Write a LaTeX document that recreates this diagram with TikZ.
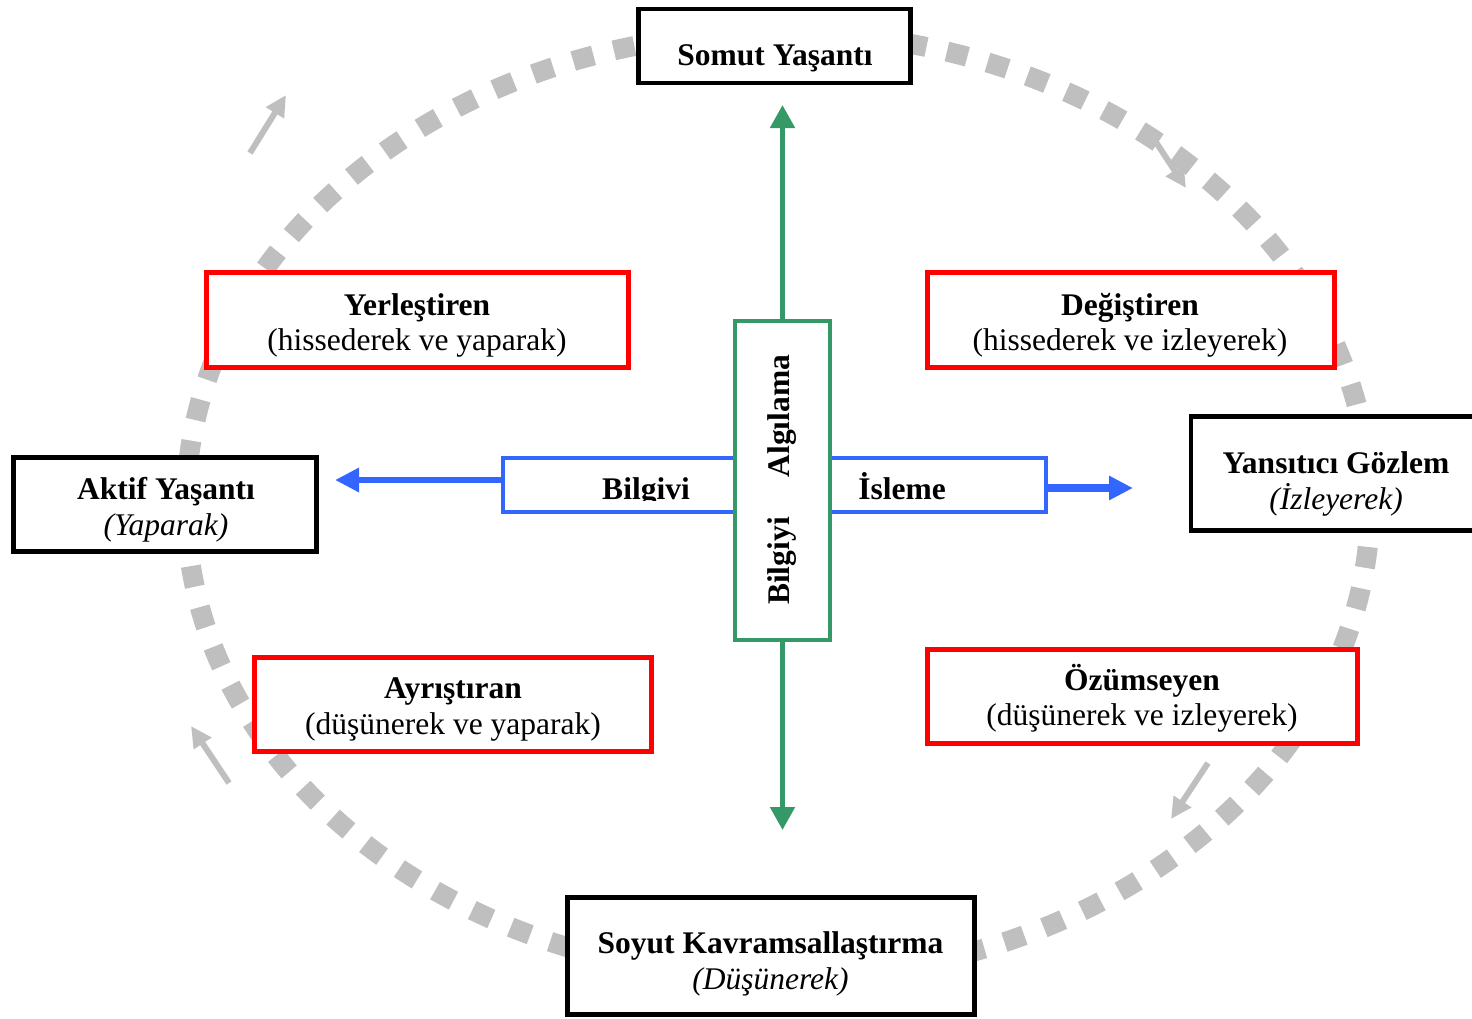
\documentclass[tikz,border=0pt]{standalone}
\usepackage{fontspec}
\setmainfont{Liberation Serif}
\usetikzlibrary{arrows.meta}
\definecolor{ringgray}{HTML}{BFBFBF}
\definecolor{stylered}{HTML}{FF0000}
\definecolor{percgreen}{HTML}{349966}
\definecolor{procblue}{HTML}{3366FF}

\begin{document}
\begin{tikzpicture}[x=1pt,y=-1pt,
        blackbox/.style={draw=black,line width=4.5pt,fill=white,inner sep=0pt},
        redbox/.style={draw=stylered,line width=4.5pt,fill=white,inner sep=0pt},
        headtxt/.style={font=\fontsize{31.5}{36}\selectfont\bfseries,anchor=base,inner sep=0pt},
        subtxt/.style={font=\fontsize{31.5}{36}\selectfont,anchor=base,inner sep=0pt},
        emtxt/.style={font=\fontsize{31.5}{36}\selectfont\itshape,anchor=base,inner sep=0pt},
        cyclearrow/.style={ringgray,line width=6pt,-{Triangle[width=20pt,length=21pt]}}]
        \useasboundingbox (0,0) rectangle (1472,1018);
        \clip (0,0) rectangle (1472,1018);

        \draw[ringgray,line width=20pt,dash pattern=on 21pt off 21pt] (778,505) ellipse [x radius=592,y radius=473];

        \coordinate (tlfrom) at (250,153);  \coordinate (tlto) at (286,95);
        \coordinate (trfrom) at (1150,133); \coordinate (trto) at (1186,188);
        \coordinate (brfrom) at (1208,763); \coordinate (brto) at (1171,819);
        \coordinate (blfrom) at (229,783);  \coordinate (blto) at (191,726);
        \draw[cyclearrow] (tlfrom) -- (tlto);
        \draw[cyclearrow] (trfrom) -- (trto);
        \draw[cyclearrow] (brfrom) -- (brto);
        \draw[cyclearrow] (blfrom) -- (blto);

        \node[blackbox,minimum width=272pt,minimum height=74pt] (somut) at (774.5,46) {};
        \node[headtxt] (somuttitle) at (775,65) {Somut Yaşantı};

        \node[blackbox,minimum width=303pt,minimum height=94pt] (aktif) at (165,504.5) {};
        \node[headtxt] (aktiftitle) at (166,499) {Aktif Yaşantı};
        \node[emtxt] (aktifsub) at (166,535) {(Yaparak)};

        \node[blackbox,minimum width=290pt,minimum height=114pt] (yansitici) at (1336,473.5) {};
        \node[headtxt] (yansitictitle) at (1336,473) {Yansıtıcı Gözlem};
        \node[emtxt] (yansiticisub) at (1336,509) {(İzleyerek)};

        \node[blackbox,minimum width=407pt,minimum height=117pt] (soyut) at (771,956) {};
        \node[headtxt] (soyuttitle) at (770.5,953) {Soyut Kavramsallaştırma};
        \node[emtxt] (soyutsub) at (770.5,989) {(Düşünerek)};

        \node[redbox,minimum width=422pt,minimum height=95pt] (yerlestiren) at (417.5,320) {};
        \node[headtxt] (yerlestirentitle) at (417,315) {Yerleştiren};
        \node[subtxt] (yerlestirensub) at (417,350) {(hissederek ve yaparak)};

        \node[redbox,minimum width=407pt,minimum height=95pt] (degistiren) at (1131,320) {};
        \node[headtxt] (degistirentitle) at (1130,315) {Değiştiren};
        \node[subtxt] (degistirensub) at (1130,350) {(hissederek ve izleyerek)};

        \node[redbox,minimum width=397pt,minimum height=94pt] (ayristiran) at (453,704.5) {};
        \node[headtxt] (ayristirantitle) at (453,698) {Ayrıştıran};
        \node[subtxt] (ayristiransub) at (453,734) {(düşünerek ve yaparak)};

        \node[redbox,minimum width=430pt,minimum height=94pt] (ozumseyen) at (1142.5,696.5) {};
        \node[headtxt] (ozumseyentitle) at (1142,690) {Özümseyen};
        \node[subtxt] (ozumseyensub) at (1142,725) {(düşünerek ve izleyerek)};

        \node[draw=procblue,line width=4pt,fill=white,inner sep=0pt,minimum width=543pt,minimum height=54pt] (process) at (774.5,485) {};
        \coordinate (processleft) at (335,480);
        \coordinate (processright) at (1133,488);
        \draw[procblue,line width=6pt,-{Triangle[width=23pt,length=24pt]}] (process.west |- processleft) -- (processleft);
        \draw[procblue,line width=7.5pt,-{Triangle[width=23pt,length=24pt]}] (process.east |- processright) -- (processright);
        \begin{scope}
            \clip (502,457) rectangle (1047,500);
            \node[headtxt] (bilgivi) at (646,499) {Bilgivi};
            \node[headtxt] (isleme) at (902,499) {İsleme};
        \end{scope}

        \node[draw=percgreen,line width=4pt,fill=white,inner sep=0pt,minimum width=95pt,minimum height=319pt] (percept) at (782.5,480.5) {};
        \coordinate (perceptup) at (782.5,105);
        \coordinate (perceptdown) at (782.5,830);
        \draw[percgreen,line width=5pt,-{Triangle[width=24pt,length=23pt]}] (percept.north) -- (perceptup);
        \draw[percgreen,line width=5pt,-{Triangle[width=24pt,length=23pt]}] (percept.south) -- (perceptdown);
        \node[headtxt,rotate=90] (algilama) at (789,416) {Algılama};
        \node[headtxt,rotate=90] (bilgiyi) at (789,561) {Bilgiyi};
\end{tikzpicture}
\end{document}
